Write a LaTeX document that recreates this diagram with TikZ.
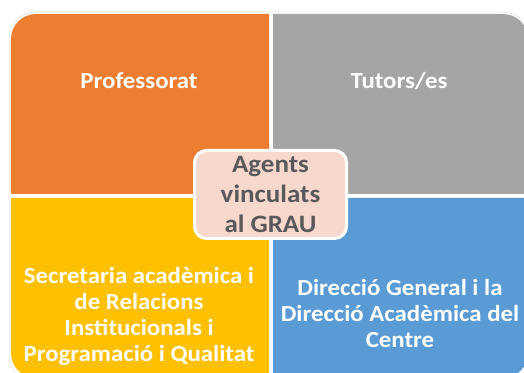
\documentclass[tikz,border=0pt]{standalone}
\usepackage{fontspec}
\setmainfont{Carlito}[FakeStretch=1.08]
\definecolor{qorange}{HTML}{ED7D31}
\definecolor{qgray}{HTML}{A5A5A5}
\definecolor{qyellow}{HTML}{FFC000}
\definecolor{qblue}{HTML}{5B9BD5}
\definecolor{cpink}{HTML}{F8D7CD}
\definecolor{ctext}{HTML}{595959}
\tikzset{
  qtext/.style={text=white, font=\fontsize{23}{26}\selectfont\bfseries, align=center, inner sep=0pt},
  ctr/.style={fill=cpink, draw=white, line width=3pt, rounded corners=12pt, minimum width=152pt, minimum height=88pt,
    text=ctext, font=\fontsize{25}{30}\selectfont\bfseries, align=center, inner sep=0pt}
}
\begin{document}
\begin{tikzpicture}[x=1pt,y=1pt]
\useasboundingbox (0,0) rectangle (524,372);
\clip (0,0) rectangle (524,372);
\fill[white] (0,0) rectangle (524,372);
% faint outline
\draw[gray!25, line width=0.5pt, rounded corners=27pt] (9,-10) rectangle (530,360);
% quadrants
\fill[qorange] (269,178) -- (11,178) -- (11,333) arc (180:90:25) -- (269,358) -- cycle;
\fill[qgray] (273,178) -- (273,358) -- (503,358) arc (90:0:25) -- (528,178) -- cycle;
\fill[qyellow] (269,174) -- (11,174) -- (11,19) arc (180:270:25) -- (269,-6) -- cycle;
\fill[qblue] (273,174) -- (273,-6) -- (503,-6) arc (270:360:25) -- (528,174) -- cycle;
% texts
\node[qtext] (prof) at (139,291) {Professorat};
\node[qtext] (tut) at (399,291) {Tutors/es};
\node[qtext] (sec) at (139,56) {Secretaria acadèmica i\\de Relacions\\Institucionals i\\Programació i Qualitat};
\node[qtext] (dir) at (400,58) {Direcció General i la\\Direcció Acadèmica del\\Centre};
\node[ctr] (agents) at (270.5,177.5) {Agents\\vinculats\\al GRAU};
\end{tikzpicture}
\end{document}
